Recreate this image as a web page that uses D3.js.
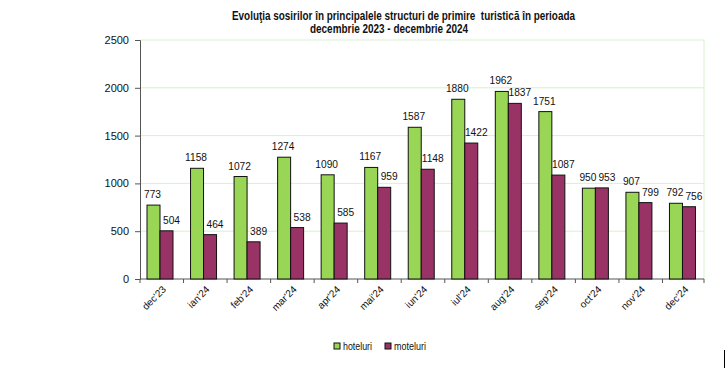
<!DOCTYPE html>
<html><head><meta charset="utf-8">
<script src="https://cdn.jsdelivr.net/npm/d3@7"></script>
<style>body{margin:0;background:#fff}svg{display:block;font-family:"Liberation Sans",Arial,sans-serif}</style>
</head><body><svg id="c" width="727" height="370"></svg>
<script>
const categories = ["dec'23","ian'24","feb'24","mar'24","apr'24","mai'24","iun'24","iul'24","aug'24","sep'24","oct'24","nov'24","dec'24"];
const hoteluri = [773,1158,1072,1274,1090,1167,1587,1880,1962,1751,950,907,792];
const moteluri = [504,464,389,538,585,959,1148,1422,1837,1087,953,799,756];
const yTicks = [0,500,1000,1500,2000,2500];
const seriesNames = ["hoteluri","moteluri"];
const colors = ["#99d656","#993366"];

const svg = d3.select("#c");
const L=140,R=706,T=40,B=279;
const x = d3.scaleBand().domain(categories).range([L,R]).paddingInner(0).paddingOuter(0);
const y = d3.scaleLinear().domain([0,2500]).range([B,T]);
const bw = 13;

svg.append("g").selectAll("line").data(yTicks.filter(d=>d>0)).join("line")
  .attr("x1",L).attr("x2",R-2).attr("y1",d=>y(d)).attr("y2",d=>y(d))
  .attr("stroke","#d8f0d0").attr("stroke-width",1);
svg.append("line").attr("x1",R-2).attr("x2",R-2).attr("y1",T).attr("y2",B).attr("stroke","#d8f0d0");

const ya = svg.append("g").attr("transform",`translate(${L},0)`)
  .call(d3.axisLeft(y).tickValues(yTicks).tickSize(5).tickPadding(6).tickFormat(d3.format("d")));
ya.select(".domain").attr("stroke","#555");
ya.selectAll(".tick line").attr("stroke","#555");
ya.selectAll("text").attr("font-size",11).attr("fill","#111").attr("font-family","Liberation Sans, Arial, sans-serif");

svg.append("line").attr("x1",L).attr("x2",R-2).attr("y1",B).attr("y2",B).attr("stroke","#555");
const bounds = categories.map(c=>x(c)).concat([R-2]);
svg.append("g").selectAll("line").data(bounds).join("line")
  .attr("x1",d=>d).attr("x2",d=>d).attr("y1",B).attr("y2",B+4).attr("stroke","#555");
svg.append("g").selectAll("text").data(categories).join("text")
  .attr("transform",c=>`translate(${x(c)+x.bandwidth()/2+5},${B+11}) rotate(-45)`)
  .attr("text-anchor","end").attr("font-size",10).attr("fill","#111").text(c=>c);

const off = 7;
[hoteluri,moteluri].forEach((vals,si)=>{
  const g = svg.append("g");
  g.selectAll("rect").data(vals).join("rect")
    .attr("x",(d,i)=>x(categories[i])+off+si*bw).attr("width",bw)
    .attr("y",d=>y(d)).attr("height",d=>B-y(d))
    .attr("fill",colors[si]).attr("stroke","#111").attr("stroke-width",1);
  g.selectAll("text").data(vals).join("text")
    .attr("x",(d,i)=>x(categories[i])+off+si*bw+bw/2+(si?5:-1))
    .attr("y",d=>y(d)-7).attr("text-anchor","middle")
    .attr("font-size",10.2).attr("fill","#111").text(d=>d);
});

svg.append("text").attr("x",232).attr("y",20)
  .attr("font-size",12).attr("font-weight","bold").attr("fill","#111")
  .attr("textLength",343).attr("lengthAdjust","spacingAndGlyphs")
  .style("white-space","pre")
  .text("Evoluţia sosirilor în principalele structuri de primire  turistică în perioada");
svg.append("text").attr("x",310).attr("y",33)
  .attr("font-size",12).attr("font-weight","bold").attr("fill","#111")
  .attr("textLength",158).attr("lengthAdjust","spacingAndGlyphs")
  .text("decembrie 2023 - decembrie 2024");

const lx=[334,385];
seriesNames.forEach((n,i)=>{
  svg.append("rect").attr("x",lx[i]).attr("y",343).attr("width",6).attr("height",6)
    .attr("fill",colors[i]).attr("stroke","#111");
  svg.append("text").attr("x",lx[i]+9).attr("y",350).attr("font-size",11).attr("fill","#111")
    .attr("textLength",i?32:29).attr("lengthAdjust","spacingAndGlyphs").text(n);
});

svg.append("line").attr("x1",724.5).attr("x2",724.5).attr("y1",350).attr("y2",368).attr("stroke","#000");
</script></body></html>
